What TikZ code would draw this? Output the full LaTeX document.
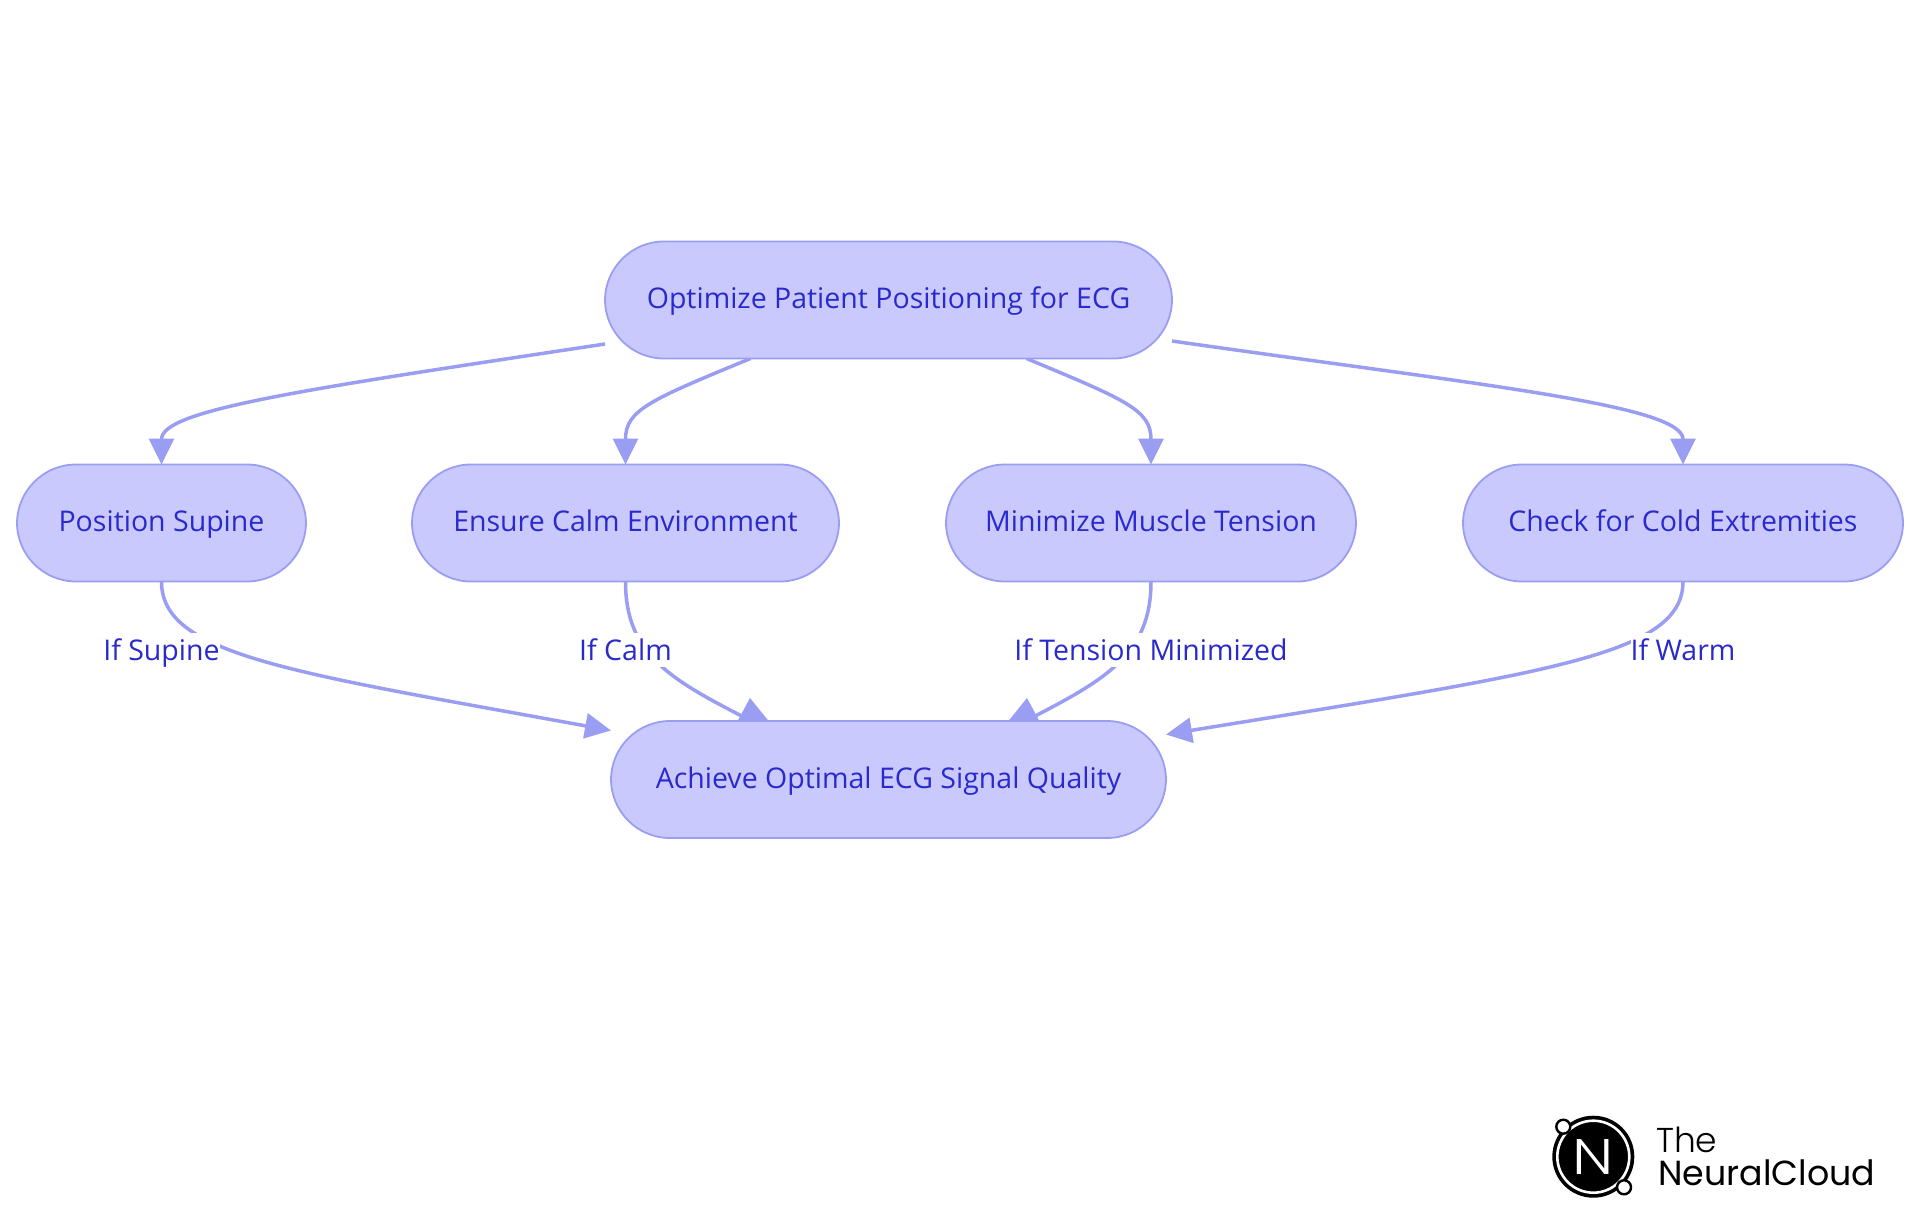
\documentclass[tikz,border=0pt]{standalone}
\usepackage{fontspec}
\setmainfont{Open Sans}
\newfontfamily\logofont{Poppins}
\newfontfamily\logothin{Poppins Light}
\usetikzlibrary{arrows.meta,backgrounds}
\definecolor{stepfill}{HTML}{C9C9FD}
\definecolor{stepline}{HTML}{9A9EF2}
\definecolor{steptext}{HTML}{2A2ACC}
\tikzset{
  stepbox/.style={draw=stepline,fill=stepfill,text=steptext,line width=1.8pt,rounded corners=59pt,
    minimum height=117pt,inner sep=0pt,outer sep=0pt,text height=24pt,text depth=6.6pt,font=\fontsize{28.5}{32}\selectfont},
  iflabel/.style={fill=white,text=steptext,inner xsep=0pt,inner ysep=0pt,minimum height=34pt,
    text height=25pt,text depth=5pt,font=\fontsize{28.5}{32}\selectfont},
  flow/.style={draw=stepline,line width=3.5pt,-{Triangle[length=26pt,width=25pt]}},
  flowplain/.style={draw=stepline,line width=3.5pt},
  flowtip/.style={fill=stepline},
  logoring/.style={circle,draw=black,fill=white,inner sep=0pt,line width=2.4pt}
}

\begin{document}
\begin{tikzpicture}[x=1pt,y=-1pt]
  			\useasboundingbox (0,0) rectangle (1920,1215);

  			\node[stepbox,minimum width=567pt] (top) at (888.5,300) {Optimize Patient Positioning for ECG};
  			\node[stepbox,minimum width=427pt] (calm) [below of=top,node distance=223pt,xshift=-263pt] {Ensure Calm Environment};
  			\node[stepbox,minimum width=289pt] (supine) [left of=calm,node distance=464pt] {Position Supine};
  			\node[stepbox,minimum width=410pt] (tension) [right of=calm,node distance=525.5pt] {Minimize Muscle Tension};
  			\node[stepbox,minimum width=440pt] (cold) [right of=tension,node distance=532pt] {Check for Cold Extremities};
  			\node[stepbox,minimum width=555pt] (goal) [below of=top,node distance=479.5pt] {Achieve Optimal ECG Signal Quality};

  			\node[iflabel] (ifsupine) [below of=supine,node distance=127pt] {If Supine};
  			\node[iflabel] (ifcalm) [below of=calm,node distance=127pt] {If Calm};
  			\node[iflabel] (iftension) [below of=tension,node distance=127pt] {If Tension Minimized};
  			\node[iflabel] (ifwarm) [below of=cold,node distance=127pt] {If Warm};

  			\begin{scope}[on background layer]
  			\draw[flow] ([yshift=-44pt]top.west) .. controls (300,390) and (161.5,410) .. (supine.north);
  			\draw[flow] ([xshift=-138pt]top.south) .. controls (650,400) and (625.5,410) .. (calm.north);
  			\draw[flow] ([xshift=138pt]top.south) .. controls (1126,400) and (1151,410) .. (tension.north);
  			\draw[flow] ([yshift=-41pt]top.east) .. controls (1480,385) and (1683,405) .. (cold.north);

  			\draw[flow] (supine.south) .. controls (161.5,655) and (290,672) .. ([yshift=49pt]goal.west);
  			\draw[flowplain] (calm.south) .. controls (625.5,655) and (671,680) .. ([xshift=-137pt]goal.north);
  			\draw[flowplain] (tension.south) .. controls (1151,655) and (1105,680) .. ([xshift=137pt]goal.north);
  			\draw[flow] (cold.south) .. controls (1683,655) and (1550,672) .. ([yshift=45pt]goal.east);

  			\fill[flowtip] (750,698) -- (736,724) -- (771,724) -- cycle;
  			\fill[flowtip] (1027,698) -- (1006,724) -- (1041,724) -- cycle;
  			\end{scope}

  			\node[circle,fill=black,draw=black,line width=3pt,minimum size=79pt,inner sep=0pt] (disc) at (1593.3,1156.7) {};
  			\node[circle,draw=white,line width=2.6pt,minimum size=72pt,inner sep=0pt] (ring) at (disc) {};
  			\node[logoring,minimum size=14pt] (moona) at (1563.3,1126.7) {};
  			\node[logoring,minimum size=14pt] (moonb) at (1624,1187.3) {};
  			\node[text=white,font=\logothin\fontsize{50}{50}\selectfont,inner sep=0pt,xscale=1.2,transform shape] (logon) at (disc) {N};
  			\node[anchor=base west,inner sep=0pt,font=\logothin\fontsize{34.5}{34}\selectfont] (logothe) at (1656,1152) {The};
  			\node[anchor=base west,inner sep=0pt,font=\logofont\fontsize{34.8}{34}\selectfont] (logoname) at (1658,1185) {NeuralCloud};
\end{tikzpicture}
\end{document}
